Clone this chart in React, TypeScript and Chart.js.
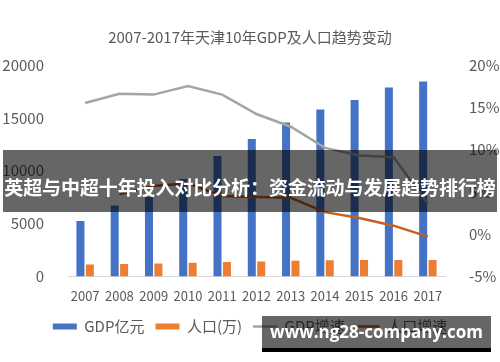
import React, { useEffect, useRef } from "react";
import { Chart, registerables } from "chart.js";

Chart.register(...registerables);

const years = ["2007", "2008", "2009", "2010", "2011", "2012", "2013", "2014", "2015", "2016", "2017"];
const gdp = [5252, 6719, 7522, 9224, 11400, 13000, 14550, 15800, 16700, 17860, 18450];
const population = [1115, 1176, 1228, 1299, 1355, 1413, 1472, 1517, 1547, 1562, 1557];
const gdpGrowth = [15.5, 16.6, 16.5, 17.5, 16.5, 14.2, 12.7, 10.2, 9.3, 9.1, 3.6];
const popGrowth = [null, 4.7, 5.7, 6.0, 4.5, 4.4, 4.3, 2.6, 1.9, 1.0, -0.3];
const leftTicks = [0, 5000, 10000, 15000, 20000];
const rightTicks = [-5, 0, 5, 10, 15, 20];

const titleText = "2007-2017年天津10年GDP及人口趋势变动";
const bannerText = "英超与中超十年投入对比分析：资金流动与发展趋势排行榜";
const watermarkText = "www.ng28-company.com";

const FONT = "'Noto Sans CJK SC', 'Noto Sans', sans-serif";
const TEXT = "#595959";

export default function App() {
  const ref = useRef<HTMLCanvasElement | null>(null);

  useEffect(() => {
    if (!ref.current) return;
    const legendRank: Record<number, number> = { 2: 0, 3: 1, 0: 2, 1: 3 };
    const chart = new Chart(ref.current, {
      data: {
        labels: years,
        datasets: [
          {
            type: "line",
            label: "GDP增速",
            data: gdpGrowth,
            yAxisID: "y1",
            borderColor: "#A5A5A5",
            backgroundColor: "#A5A5A5",
            borderWidth: 2.5,
            pointRadius: 0,
            tension: 0,
            pointStyle: "line",
          },
          {
            type: "line",
            label: "人口增速",
            data: popGrowth,
            yAxisID: "y1",
            borderColor: "#C55F22",
            backgroundColor: "#C55F22",
            borderWidth: 2.5,
            pointRadius: 0,
            tension: 0,
            pointStyle: "line",
          },
          {
            type: "bar",
            label: "GDP亿元",
            data: gdp,
            yAxisID: "y",
            backgroundColor: "#4472C4",
            categoryPercentage: 0.55,
            barPercentage: 0.85,
            pointStyle: "rect",
          },
          {
            type: "bar",
            label: "人口(万)",
            data: population,
            yAxisID: "y",
            backgroundColor: "#ED7D31",
            categoryPercentage: 0.55,
            barPercentage: 0.85,
            pointStyle: "rect",
          },
        ],
      } as any,
      options: {
        animation: false,
        responsive: false,
        maintainAspectRatio: false,
        layout: { padding: { top: 0, bottom: 18, left: 0, right: 0 } },
        plugins: {
          title: {
            display: true,
            text: titleText,
            color: TEXT,
            font: { family: FONT, size: 15, weight: "normal" },
            padding: { top: 28, bottom: 19 },
          },
          legend: {
            position: "bottom",
            labels: {
              usePointStyle: true,
              pointStyleWidth: 24,
              boxHeight: 6,
              color: TEXT,
              font: { family: FONT, size: 15 },
              padding: 11,
              sort: (a: any, b: any) => legendRank[a.datasetIndex] - legendRank[b.datasetIndex],
            },
          },
          tooltip: { enabled: false },
        },
        scales: {
          x: {
            grid: { display: false },
            border: { display: true, color: "#D9D9D9", width: 1 },
            ticks: { color: TEXT, font: { family: FONT, size: 13 }, padding: 4, maxRotation: 0, autoSkip: false },
          },
          y: {
            position: "left",
            min: 0,
            max: 20000,
            afterBuildTicks: (s: any) => {
              s.ticks = leftTicks.map((v) => ({ value: v }));
            },
            afterFit: (s: any) => {
              s.width = 68;
            },
            grid: { display: false },
            border: { display: false },
            ticks: { color: TEXT, font: { family: FONT, size: 15 }, padding: 16, callback: (v: any) => String(v) },
          },
          y1: {
            position: "right",
            min: -5,
            max: 20,
            afterBuildTicks: (s: any) => {
              s.ticks = rightTicks.map((v) => ({ value: v }));
            },
            afterFit: (s: any) => {
              s.width = 55;
            },
            grid: { display: false },
            border: { display: false },
            ticks: {
              color: TEXT,
              font: { family: FONT, size: 15 },
              padding: 16,
              callback: (v: any) => `${v}%`,
            },
          },
        },
      } as any,
    });
    return () => chart.destroy();
  }, []);

  return (
    <div style={{ position: "fixed", left: 0, top: 0, width: 500, height: 362, background: "#fff", overflow: "hidden" }}>
      <canvas ref={ref} width={500} height={362} style={{ display: "block", width: 500, height: 362 }} />
      <div
        style={{
          position: "absolute",
          left: 3,
          top: 150,
          width: 494,
          height: 62,
          background: "rgba(0,0,0,0.6)",
          color: "#fff",
          fontFamily: FONT,
          fontWeight: 700,
          fontSize: 19,
          lineHeight: "62px",
          textAlign: "center",
          whiteSpace: "nowrap",
          paddingTop: 6,
          boxSizing: "border-box",
          letterSpacing: -0.1,
        }}
      >
        {bannerText}
      </div>
      <div
        style={{
          position: "absolute",
          left: 262,
          top: 316,
          width: 229,
          height: 32,
          background: "rgba(0,0,0,0.6)",
          borderBottom: "4px solid #000",
          color: "#fff",
          fontFamily: "'Open Sans', sans-serif",
          fontWeight: 700,
          fontSize: 17,
          lineHeight: "32px",
          textAlign: "center",
          whiteSpace: "nowrap",
        }}
      >
        {watermarkText}
      </div>
    </div>
  );
}
